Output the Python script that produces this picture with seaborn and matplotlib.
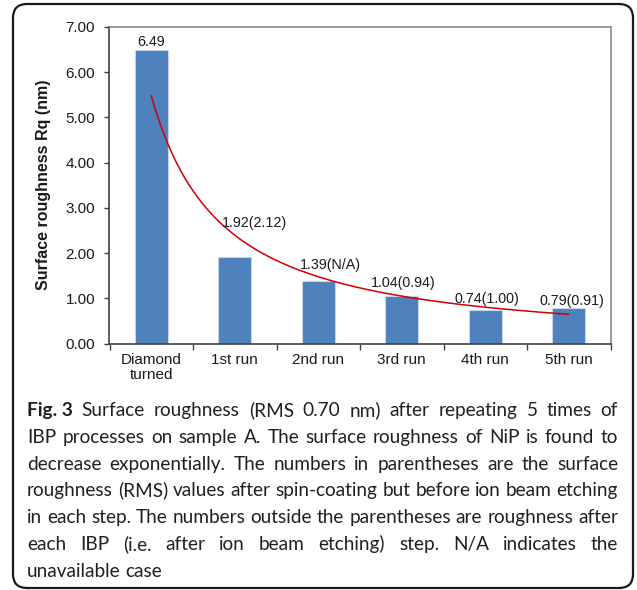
import numpy as np
import pandas as pd
import matplotlib
matplotlib.use("Agg")
import matplotlib.pyplot as plt
import seaborn as sns
from matplotlib.patches import FancyBboxPatch
from matplotlib.transforms import IdentityTransform
from matplotlib.ticker import FormatStrFormatter, FixedLocator
from matplotlib.font_manager import FontProperties

# ---- data ----
categories = ["Diamond\nturned", "1st run", "2nd run", "3rd run", "4th run", "5th run"]
rq_after_ibp = [6.49, 1.92, 1.39, 1.04, 0.74, 0.79]
rq_after_coating = [None, "2.12", "N/A", "0.94", "1.00", "0.91"]

y_ticks = [0, 1, 2, 3, 4, 5, 6, 7]

caption_lines = [
    "Surface roughness (RMS 0.70 nm) after repeating 5 times of",
    "IBP processes on sample A. The surface roughness of NiP is found to",
    "decrease exponentially. The numbers in parentheses are the surface",
    "roughness (RMS) values after spin-coating but before ion beam etching",
    "in each step. The numbers outside the parentheses are roughness after",
    "each IBP (i.e. after ion beam etching) step. N/A indicates the",
    "unavailable case",
]

# ---- style ----
sns.set_style("ticks")
plt.rcParams["font.family"] = ["Liberation Sans", "DejaVu Sans"]

W, H = 637, 590
fig = plt.figure(figsize=(W / 100, H / 100), dpi=100)
fig.patch.set_facecolor("white")

# plot area in pixel units
ax_l, ax_r, ax_t, ax_b = 109.5, 610.5, 27.0, 343.5
ax = fig.add_axes([ax_l / W, 1 - ax_b / H, (ax_r - ax_l) / W, (ax_b - ax_t) / H])

df = pd.DataFrame({"step": categories, "rq": rq_after_ibp})
sns.barplot(data=df, x="step", y="rq", color="#4F81BD", width=0.40,
            edgecolor="#c5d6ec", linewidth=0.8, saturation=1, ax=ax)

# power-law trendline fitted to the measured roughness
xi = np.arange(1, len(rq_after_ibp) + 1)
b, a = np.polyfit(np.log(xi), np.log(rq_after_ibp), 1)
xs = np.linspace(1, len(rq_after_ibp), 200)
sns.lineplot(x=xs - 1, y=np.exp(a) * xs ** b, color="#D00000", linewidth=1.1, ax=ax)

# value labels
label_offsets = [(0, 8), (20, 34), (12, 16), (1, 13), (2, 11), (3, 7)]
for i, (v, pre) in enumerate(zip(rq_after_ibp, rq_after_coating)):
    txt = f"{v:.2f}" if pre is None else f"{v:.2f}({pre})"
    dx, dy = label_offsets[i]
    ax.annotate(txt, xy=(i, v), xytext=(dx, dy), textcoords="offset pixels",
                ha="center", va="center", fontsize=10.3, color="#1a1a1a")

ax.set_xlim(-0.5, len(categories) - 0.5)
ax.set_ylim(0, 7)
ax.set_yticks(y_ticks)
ax.yaxis.set_major_formatter(FormatStrFormatter("%.2f"))
ax.set_xlabel("")
ax.set_ylabel("Surface roughness Rq (nm)", fontsize=11.5, fontweight="bold",
              color="#1a1a1a", va="center")
ax.yaxis.set_label_coords((44 - ax_l) / (ax_r - ax_l), 0.5)

ax.xaxis.set_minor_locator(FixedLocator(np.arange(-0.5, len(categories), 1.0)))
ax.tick_params(axis="x", which="major", length=0, pad=7.0, labelsize=11,
               labelcolor="#1a1a1a")
ax.tick_params(axis="x", which="minor", length=4.3, width=1.0, color="#404040",
               direction="out")
ax.tick_params(axis="y", which="major", length=3.6, width=1.0, color="#404040",
               direction="out", pad=6.8, labelsize=11, labelcolor="#1a1a1a")
for lbl in ax.get_xticklabels():
    lbl.set_linespacing(1.05)

for side in ["top", "right"]:
    ax.spines[side].set_visible(True)
    ax.spines[side].set_color("#8a8a8a")
    ax.spines[side].set_linewidth(1.2)
for side in ["left", "bottom"]:
    ax.spines[side].set_color("#404040")
    ax.spines[side].set_linewidth(1.2)

# ---- rounded frame around figure and caption ----
frame = FancyBboxPatch((13, H - 588), 620, 584,
                       boxstyle="round,pad=0,rounding_size=14",
                       transform=IdentityTransform(), fill=False,
                       linewidth=1.6, edgecolor="#1a1a1a")
fig.add_artist(frame)

# ---- caption, justified ----
renderer = fig.canvas.get_renderer()
cap_family = ["Lato", "DejaVu Sans"]
cap_left, cap_right = 27.0, 618.0
first_baseline, line_step = 416.0, 26.8
cap_color = "#231f20"


def word_width(s, fp):
    t = fig.text(0, 0, s, fontproperties=fp, transform=IdentityTransform())
    w = t.get_window_extent(renderer).width
    t.remove()
    return w


def line_tokens(k, reg, bold):
    tokens = [(w, reg) for w in caption_lines[k].split(" ")]
    if k == 0:
        tokens = [("Fig. 3", bold)] + tokens
    return tokens


def fonts(size):
    return (FontProperties(family=cap_family, size=size),
            FontProperties(family=cap_family, size=size, weight="bold"))


# pick the largest size at which every line fits with ordinary word spacing
probe = 13.0
reg, bold = fonts(probe)
sp = word_width("a a", reg) - 2 * word_width("a", reg)
widest = 0.0
for k in range(len(caption_lines)):
    toks = line_tokens(k, reg, bold)
    nat = sum(word_width(w, fp) for w, fp in toks) + sp * (len(toks) - 1)
    widest = max(widest, nat)
cap_size = probe * (cap_right - cap_left) / widest * 0.995

reg, bold = fonts(cap_size)
space_w = word_width("a a", reg) - 2 * word_width("a", reg)
for k in range(len(caption_lines)):
    tokens = line_tokens(k, reg, bold)
    widths = [word_width(w, fp) for w, fp in tokens]
    y = H - (first_baseline + k * line_step)
    if k < len(caption_lines) - 1 and len(tokens) > 1:
        gap = (cap_right - cap_left - sum(widths)) / (len(tokens) - 1)
    else:
        gap = space_w
    x = cap_left
    for (w, fp), wd in zip(tokens, widths):
        fig.text(x, y, w, fontproperties=fp, color=cap_color,
                 transform=IdentityTransform(), ha="left", va="baseline")
        x += wd + gap

fig.savefig("out.png", dpi=100, facecolor="white")
